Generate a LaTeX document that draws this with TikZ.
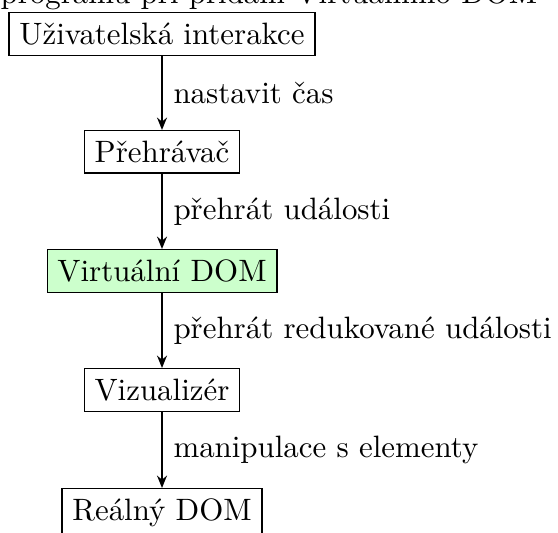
\documentclass[tikz,border=0pt]{standalone}
\usepackage{fontspec}
\usetikzlibrary{arrows.meta}
\begin{document}
\begin{tikzpicture}[x=0.3236pt,y=-0.3236pt,
  box/.style={draw, anchor=north, inner sep=0.333em},
  vdom/.style={box, fill=green!20},
  flow/.style={-{Stealth[length=4pt,width=3.2pt]}, thick},
  lbl/.style={midway, right, inner sep=0.333em}]
\useasboundingbox (0,0) rectangle (558,532);
\node[anchor=base west, inner sep=0pt] (title) at (0,3) {programu při přidání Virtuálního DOM};
\node[box] (ui) at (162,12) {Uživatelská interakce};
\node[box] (play) at (162,130) {Přehrávač};
\node[vdom] (vd) at (162,249) {Virtuální DOM};
\node[box] (vis) at (162,368) {Vizualizér};
\node[box] (real) at (162,488) {Reálný DOM};
\draw[flow] (ui) -- (play) node[lbl] (l1) {nastavit čas};
\draw[flow] (play) -- (vd) node[lbl] (l2) {přehrát události};
\draw[flow] (vd) -- (vis) node[lbl] (l3) {přehrát redukované události};
\draw[flow] (vis) -- (real) node[lbl] (l4) {manipulace s elementy};
\end{tikzpicture}
\end{document}
